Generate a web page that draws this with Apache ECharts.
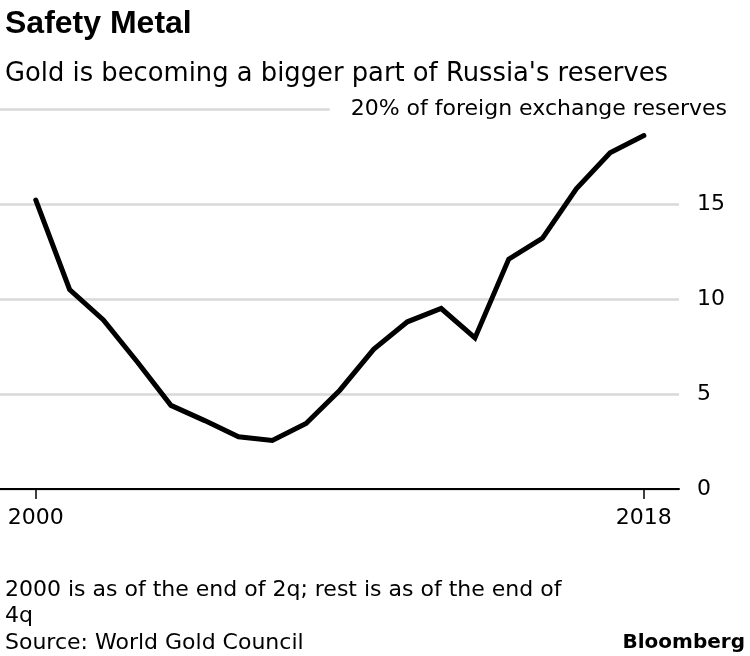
<!DOCTYPE html>
<html>
<head>
<meta charset="utf-8">
<script src="https://cdn.jsdelivr.net/npm/echarts@6/dist/echarts.min.js"></script>
<style>
html,body{margin:0;padding:0;background:#fff;}
#chart{width:750px;height:656px;}
</style>
</head>
<body>
<div id="chart"></div>
<script>
var years = [2000,2001,2002,2003,2004,2005,2006,2007,2008,2009,2010,2011,2012,2013,2014,2015,2016,2017,2018];
var goldShare = [15.2,10.5,8.9,6.7,4.4,3.6,2.75,2.55,3.45,5.2,7.35,8.8,9.5,7.95,12.1,13.2,15.8,17.7,18.6];
var xTickLabels = [2000, 2018];
var yTicks = [0,5,10,15,20];
var topLabel = '20% of foreign exchange reserves';

var FONT = '"DejaVu Sans", "Liberation Sans", Arial, sans-serif';
var TFONT = '"Liberation Sans", Arial, sans-serif';
var chart = echarts.init(document.getElementById('chart'), null, {renderer:'canvas'});
chart.setOption({
  backgroundColor:'#fff',
  animation:false,
  title:[
    {text:'Safety Metal', left:0, top:3, textStyle:{fontFamily:TFONT, fontSize:32, fontWeight:'bold', color:'#000'}},
    {text:'Gold is becoming a bigger part of Russia\'s reserves', left:0, top:56, textStyle:{fontFamily:FONT, fontSize:25.8, fontWeight:'normal', color:'#000'}},
    {text:'2000 is as of the end of 2q; rest is as of the end of\n4q\nSource: World Gold Council', left:0, top:572, textStyle:{fontFamily:FONT, fontSize:22, fontWeight:'normal', color:'#000', lineHeight:26.5}},
    {text:'Bloomberg', right:0, top:628, textStyle:{fontFamily:FONT, fontSize:20, fontWeight:'bold', color:'#000'}}
  ],
  grid:{left:0, right:71, top:109, bottom:167, containLabel:false},
  xAxis:{
    type:'value', min:1998.94, max:2019.04,
    axisLine:{show:true, lineStyle:{color:'#000', width:2}},
    axisTick:{show:true, customValues:xTickLabels, length:10, lineStyle:{color:'#000', width:1.5}},
    axisLabel:{show:true, customValues:xTickLabels, margin:18, fontFamily:FONT, fontSize:22, color:'#000',
      formatter:function(v){return String(Math.round(v));}},
    splitLine:{show:false}
  },
  yAxis:{
    type:'value', position:'right', min:yTicks[0], max:yTicks[yTicks.length-1], interval:5,
    axisLine:{show:false}, axisTick:{show:false},
    splitLine:{show:true, lineStyle:{color:'#d9d9d9', width:2.5}},
    axisLabel:{
      show:true, align:'right', margin:48, color:'#000', fontFamily:FONT, fontSize:22,
      formatter:function(v){
        if (v === 20) return '{t|' + topLabel + '}';
        return '{n|' + v + '}';
      },
      rich:{
        n:{width:30, align:'left', fontFamily:FONT, fontSize:22, color:'#000'},
        t:{backgroundColor:'#fff', padding:[3,0,3,21], fontFamily:FONT, fontSize:22, color:'#000'}
      }
    }
  },
  series:[{
    type:'line',
    data: years.map(function(y,i){return [y, goldShare[i]];}),
    showSymbol:false, symbol:'none',
    lineStyle:{color:'#000', width:5, cap:'round', join:'miter'},
    z:3
  }]
});
</script>
</body>
</html>
